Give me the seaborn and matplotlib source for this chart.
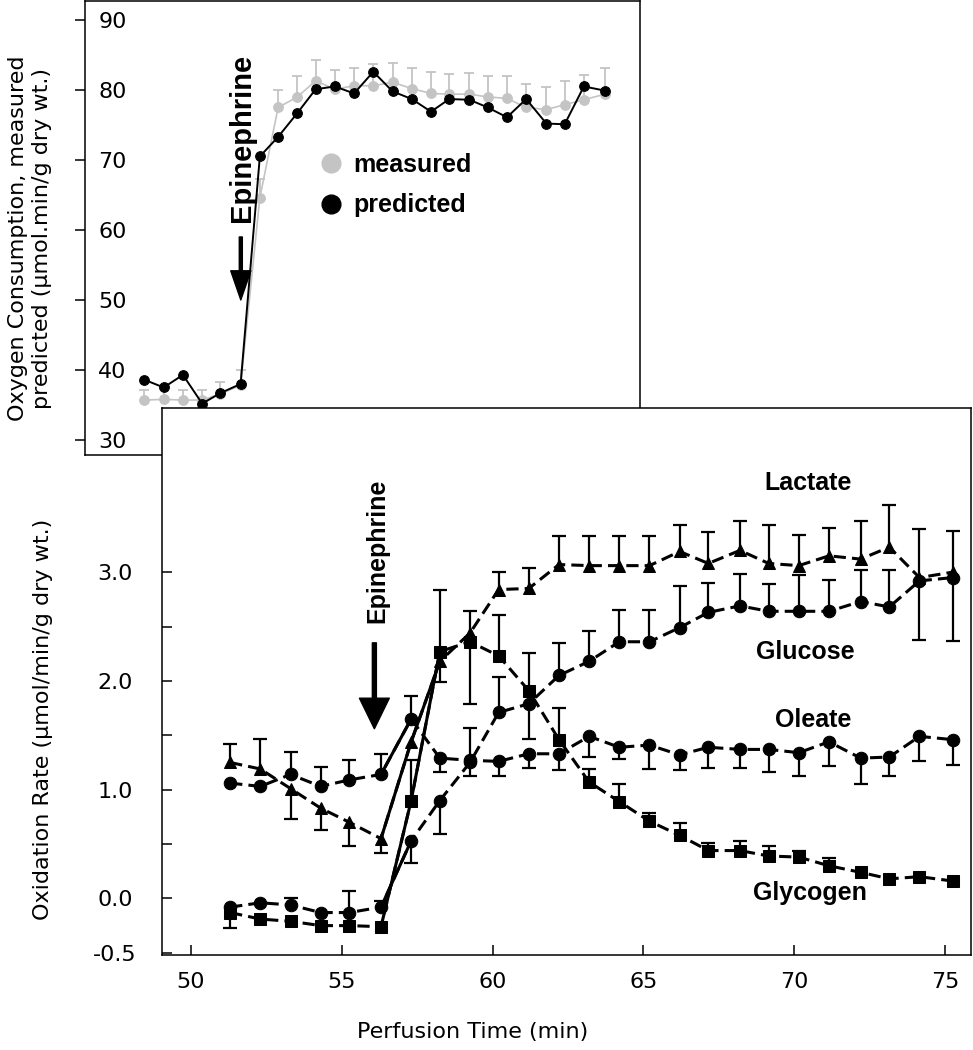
import numpy as np
import pandas as pd
import matplotlib
matplotlib.use("Agg")
import matplotlib.pyplot as plt
from matplotlib.lines import Line2D
import seaborn as sns

sns.set_style("ticks")
plt.rcParams['font.family'] = ['DejaVu Sans']
plt.rcParams['text.color'] = 'black'
plt.rcParams['axes.labelcolor'] = 'black'

# perfusion time of each sample (min)
time = [51.3, 52.3, 53.3, 54.3, 55.25, 56.3, 57.3, 58.25, 59.25, 60.2, 61.2, 62.2, 63.2,
        64.2, 65.2, 66.2, 67.15, 68.2, 69.15, 70.15, 71.15, 72.2, 73.15, 74.15, 75.25]

# top panel: oxygen consumption
o2_measured = [35.7, 35.8, 35.7, 35.7, 36.6, 37.8, 64.6, 77.5, 79.0, 81.3, 80.1, 80.6, 80.6,
               81.1, 80.2, 79.5, 79.4, 79.4, 79.0, 78.8, 77.5, 77.2, 77.9, 78.6, 79.4]
o2_measured_err = [1.5, 1.5, 1.5, 1.5, 1.7, 2.2, 2.7, 2.5, 3.0, 3.0, 2.8, 2.5, 3.1,
                   2.8, 3.0, 3.1, 2.9, 3.0, 3.0, 3.2, 3.4, 3.2, 3.4, 3.6, 3.7]
o2_predicted = [38.6, 37.5, 39.3, 35.2, 36.7, 38.0, 70.5, 73.3, 76.7, 80.1, 80.5, 79.5, 82.6,
                79.8, 78.7, 76.9, 78.7, 78.6, 77.5, 76.1, 78.7, 75.2, 75.1, 80.5, 79.9]

# bottom panel: oxidation rates, with one-sided error bars (0 = none)
lactate = [1.25, 1.19, 1.01, 0.83, 0.70, 0.55, 1.44, 2.18, 2.44, 2.84, 2.85, 3.07, 3.06,
           3.06, 3.06, 3.19, 3.08, 3.20, 3.08, 3.06, 3.15, 3.12, 3.23, 2.95, 3.00]
lactate_up = [0.17, 0.28, 0, 0, 0, 0, 0, 0, 0.20, 0.16, 0.19, 0.26, 0.27,
              0.27, 0.27, 0.24, 0.29, 0.27, 0.35, 0.28, 0.26, 0.35, 0.39, 0, 0]
lactate_dn = [0, 0, 0.28, 0.20, 0.22, 0.13, 0, 0.19, 0, 0, 0, 0, 0,
              0, 0, 0, 0, 0, 0, 0, 0, 0, 0, 0, 0]

glucose = [-0.08, -0.04, -0.06, -0.13, -0.13, -0.08, 0.53, 0.90, 1.25, 1.71, 1.79, 2.05, 2.18,
           2.36, 2.36, 2.49, 2.63, 2.69, 2.64, 2.64, 2.64, 2.73, 2.68, 2.92, 2.95]
glucose_up = [0, 0, 0.06, 0, 0.20, 0.06, 0, 0, 0.32, 0.33, 0, 0.30, 0.28,
              0.29, 0.29, 0.38, 0.27, 0.29, 0.25, 0.33, 0.29, 0.29, 0.34, 0.48, 0.43]
glucose_dn = [0, 0, 0, 0, 0, 0, 0.20, 0.31, 0, 0, 0.32, 0, 0,
              0, 0, 0, 0, 0, 0, 0, 0, 0, 0, 0.54, 0.58]

oleate = [1.06, 1.03, 1.14, 1.03, 1.09, 1.14, 1.65, 1.29, 1.27, 1.26, 1.33, 1.33, 1.49,
          1.39, 1.41, 1.32, 1.39, 1.37, 1.37, 1.34, 1.44, 1.29, 1.30, 1.49, 1.46]
oleate_up = [0, 0, 0.21, 0.18, 0.18, 0.19, 0.21, 0, 0, 0, 0, 0, 0,
             0, 0, 0, 0, 0, 0, 0, 0, 0, 0, 0, 0]
oleate_dn = [0, 0, 0, 0, 0, 0, 0, 0.13, 0.14, 0.13, 0.13, 0.15, 0.19,
             0.11, 0.22, 0.14, 0.19, 0.17, 0.21, 0.21, 0.22, 0.24, 0.17, 0.23, 0.23]

glycogen = [-0.13, -0.19, -0.21, -0.25, -0.25, -0.26, 0.90, 2.27, 2.36, 2.23, 1.91, 1.46, 1.07,
            0.89, 0.71, 0.58, 0.44, 0.44, 0.39, 0.38, 0.30, 0.24, 0.18, 0.20, 0.16]
glycogen_up = [0, 0, 0, 0, 0, 0, 0.37, 0.57, 0, 0.38, 0.35, 0.29, 0.12,
               0.16, 0.08, 0.11, 0.07, 0.09, 0.09, 0.06, 0.07, 0, 0, 0, 0]
glycogen_dn = [0.14, 0, 0, 0, 0, 0, 0, 0, 0.57, 0, 0, 0, 0,
               0, 0, 0, 0, 0, 0, 0, 0, 0, 0, 0, 0]

substrates = {
    'Lactate': (lactate, lactate_up, lactate_dn, '^'),
    'Glucose': (glucose, glucose_up, glucose_dn, 'o'),
    'Oleate': (oleate, oleate_up, oleate_dn, 'o'),
    'Glycogen': (glycogen, glycogen_up, glycogen_dn, 's'),
}

bold = dict(family='Liberation Sans', fontweight='bold', color='black')


def one_sided_bars(ax, x, y, err, sign, color, lw, cap):
    x = np.asarray(x); y = np.asarray(y); err = np.asarray(err)
    keep = err > 0
    ends = y[keep] + sign * err[keep]
    ax.vlines(x[keep], y[keep], ends, color=color, lw=lw, zorder=1)
    ax.plot(x[keep], ends, linestyle='none', marker='_', markersize=cap,
            markeredgewidth=lw, color=color, zorder=1)


fig = plt.figure(figsize=(9.73, 10.5), dpi=100)

# ---------------- top panel ----------------
ax1 = fig.add_axes([0.0874, 0.5667, 0.5704, 0.4323])
gray = '#c4c4c4'
one_sided_bars(ax1, time, o2_measured, o2_measured_err, 1, gray, 1.3, 7)
sns.lineplot(x=time, y=o2_measured, ax=ax1, color=gray, linewidth=1.2, marker='o',
             markersize=7, markeredgecolor=gray, sort=False, estimator=None)
sns.lineplot(x=time, y=o2_predicted, ax=ax1, color='black', linewidth=1.4, marker='o',
             markersize=7, markeredgecolor='black', sort=False, estimator=None)

ax1.set_xlim(48.21, 77.07)
ax1.set_ylim(27.86, 92.7)
ax1.set_xticks([])
ax1.set_yticks([30, 40, 50, 60, 70, 80, 90], ['30', '40', '50', '60', '70', '80', '90'], ha='left')
ax1.tick_params(axis='y', direction='out', length=7, width=1.1, pad=-16.5, labelsize=16,
                colors='black')
ax1.set_ylabel('Oxygen Consumption, measured\npredicted (µmol.min/g dry wt.)', fontsize=16,
               linespacing=1.3, va='center')
ax1.yaxis.set_label_coords(-0.099, 0.477)

ax1.text(56.36, 73.1, 'Epinephrine', rotation=90, ha='center', va='center', fontsize=21, **bold)
ax1.annotate('', xy=(56.31, 50.0), xytext=(56.31, 59.0),
             arrowprops=dict(width=2.2, headwidth=14.5, headlength=21, facecolor='black',
                             edgecolor='black', shrink=0))

handles = [Line2D([], [], linestyle='none', marker='o', markersize=13.5, color=gray),
           Line2D([], [], linestyle='none', marker='o', markersize=13.5, color='black')]
leg = ax1.legend(handles, ['measured', 'predicted'], loc='upper left',
                 bbox_to_anchor=(0.421, 0.665), frameon=False, handlelength=1.0,
                 handletextpad=0.4, labelspacing=0.65, borderpad=0, borderaxespad=0,
                 prop=dict(family='Liberation Sans', weight='bold', size=18))
for t in leg.get_texts():
    t.set_color('black')

# ---------------- bottom panel ----------------
ax2 = fig.add_axes([0.1665, 0.0905, 0.8315, 0.521])
ax2.patch.set_facecolor('white')

for name, (vals, up, dn, mk) in substrates.items():
    one_sided_bars(ax2, time, vals, up, 1, 'black', 1.6, 9.5)
    one_sided_bars(ax2, time, vals, dn, -1, 'black', 1.6, 9.5)

df = pd.DataFrame({
    'time': time * len(substrates),
    'rate': sum([v[0] for v in substrates.values()], []),
    'substrate': np.repeat(list(substrates.keys()), len(time)),
})
sns.lineplot(data=df, x='time', y='rate', style='substrate', ax=ax2, color='black',
             markers={k: v[3] for k, v in substrates.items()},
             dashes={k: (4, 2) for k in substrates}, linewidth=2.2, markersize=9,
             markeredgecolor='black', legend=False, sort=False, estimator=None)

# the steep rise right after the epinephrine pulse is drawn solid
steep = {'Lactate': 8, 'Glycogen': 8, 'Glucose': 7, 'Oleate': 7}
for name, stop in steep.items():
    sub = df[df['substrate'] == name].iloc[5:stop]
    ax2.plot(sub['time'], sub['rate'], color='black', linewidth=2.2, zorder=2)

ax2.set_xlim(49.04, 75.86)
ax2.set_ylim(-0.52, 4.51)
ax2.set_xticks([50, 55, 60, 65, 70, 75])
ax2.set_yticks([-0.5, 0, 0.5, 1.0, 1.5, 2.0, 2.5, 3.0],
               ['-0.5', '0.0', '', '1.0', '', '2.0', '', '3.0'], ha='center')
ax2.tick_params(axis='x', direction='in', length=7, width=1.1, pad=12, labelsize=16, colors='black')
ax2.tick_params(axis='y', direction='in', length=7, width=1.1, pad=34, labelsize=16, colors='black')
ax2.set_xlabel('Perfusion Time (min)', fontsize=16, va='center')
ax2.xaxis.set_label_coords(0.384, -0.14)
ax2.set_ylabel('Oxidation Rate (µmol/min/g dry wt.)', fontsize=16, va='center')
ax2.yaxis.set_label_coords(-0.147, 0.431)

ax2.text(56.18, 3.2, 'Epinephrine', rotation=90, ha='center', va='center', fontsize=18, **bold)
ax2.annotate('', xy=(56.08, 1.56), xytext=(56.08, 2.35),
             arrowprops=dict(width=2.9, headwidth=21.5, headlength=22, facecolor='black',
                             edgecolor='black', shrink=0))

ax2.text(70.45, 3.82, 'Lactate', ha='center', va='center', fontsize=18, **bold)
ax2.text(70.35, 2.27, 'Glucose', ha='center', va='center', fontsize=18, **bold)
ax2.text(70.62, 1.64, 'Oleate', ha='center', va='center', fontsize=18, **bold)
ax2.text(70.52, 0.05, 'Glycogen', ha='center', va='center', fontsize=18, **bold)

for ax in (ax1, ax2):
    for sp in ax.spines.values():
        sp.set_visible(True)
        sp.set_color('black')
        sp.set_linewidth(1.1)

fig.savefig('out.png', dpi=100)
